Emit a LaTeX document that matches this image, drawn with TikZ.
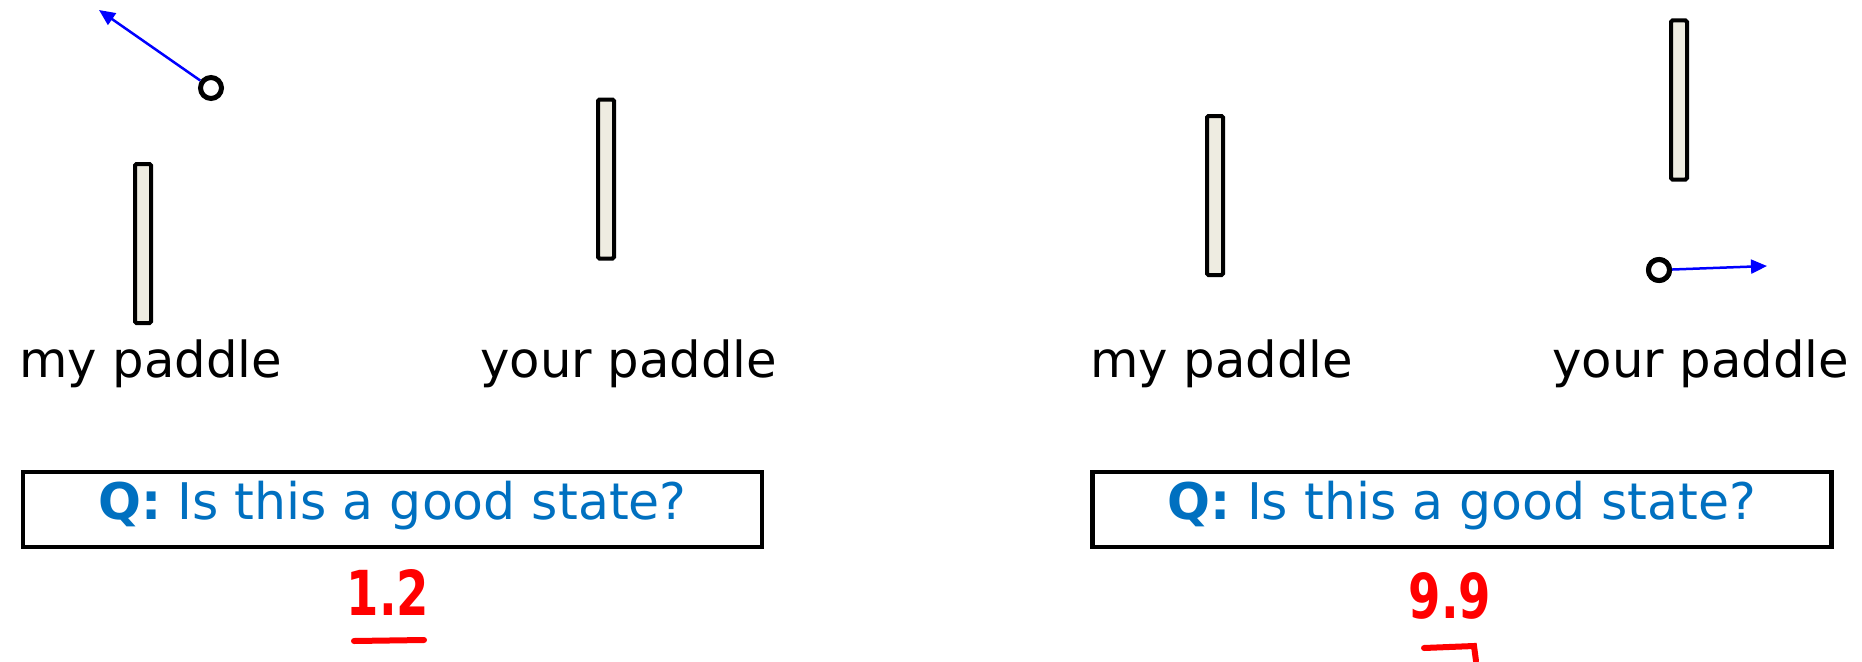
\documentclass[tikz,border=0pt]{standalone}
\usepackage{fontspec}
\setmainfont{DejaVu Sans}
\usetikzlibrary{arrows.meta,positioning}
\definecolor{paddlefill}{HTML}{EEECE1}
\definecolor{qblue}{HTML}{0070C0}

\begin{document}
\begin{tikzpicture}[x=1pt, y=-1pt,
    paddle/.style={rectangle, draw, line width=4pt, fill=paddlefill, rounded corners=1.5pt,
        minimum width=16pt, minimum height=159pt, inner sep=0pt},
    ball/.style={circle, draw, line width=5pt, fill=white, minimum size=21pt, inner sep=0pt},
    vel/.style={-{Triangle[length=16pt,width=14pt]}, blue, line width=2.5pt},
    lbl/.style={anchor=base west, inner sep=0pt, font=\fontsize{49.7}{58}\selectfont},
    qbox/.style={rectangle, draw, line width=4.5pt, minimum width=739pt, minimum height=75pt,
        text=qblue, text height=36pt, text depth=16pt, font=\fontsize{50.5}{60}\selectfont},
    score/.style={text=red, inner sep=0pt, xscale=0.75, font=\fontsize{62}{70}\selectfont\bfseries},
    scoreline/.style={red, line width=6pt, line cap=round}
]
\useasboundingbox (0,0) rectangle (1862,661);
% left state
\node[paddle] (myA) at (143,243.5) {};
\node[paddle] (yourA) at (606,179) {};
\node[ball] (ballA) at (211,88) {};
\coordinate (velA) at (99,10);
\draw[vel] (ballA) -- (velA);
\node[lbl] (myAlbl) at (19,377) {my paddle};
\node[lbl] (yourAlbl) at (480,377) {your paddle};
\node[qbox] (qA) at (392.5,509.5) {\textbf{Q:} Is this a good state?};
\node[score] (scoreA) at (388,592) {1.2};
\coordinate (ulA1) at (354,641);
\coordinate (ulA2) at (424,640);
\draw[scoreline] (ulA1) -- (ulA2);
% right state
\node[paddle] (myB) at (1215,195.5) {};
\node[paddle] (yourB) at (1679,100) {};
\node[ball] (ballB) at (1659,270) {};
\coordinate (velB) at (1767,266);
\draw[vel] (ballB.center) -- (velB);
\node[ball] at (ballB) {};
\node[lbl] (myBlbl) at (1090,377) {my paddle};
\node[lbl] (yourBlbl) at (1552,377) {your paddle};
\node[qbox] (qB) at (1462,509.5) {\textbf{Q:} Is this a good state?};
\node[score] (scoreB) at (1450,596) {9.9};
\coordinate (ulB1) at (1424,648);
\coordinate (ulB2) at (1474,646);
\coordinate (ulB3) at (1476,661);
\draw[scoreline] (ulB1) -- (ulB2) -- (ulB3);
\end{tikzpicture}
\end{document}
